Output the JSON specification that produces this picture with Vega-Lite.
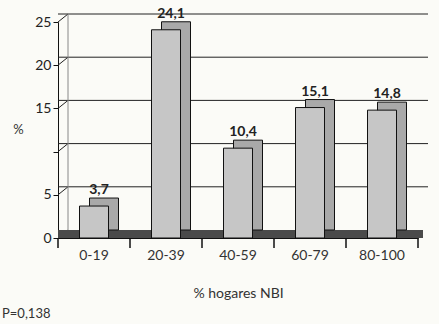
{
  "$schema": "https://vega.github.io/schema/vega-lite/v6.json",
  "width": 360,
  "height": 216,
  "autosize": {"type": "none"},
  "padding": {"left": 58, "top": 22, "right": 21, "bottom": 86},
  "background": "#fbfbf7",
  "config": {
    "view": {"stroke": null},
    "font": "Lato",
    "locale": {"number": {"decimal": ",", "thousands": ".", "grouping": [3], "currency": ["", ""]}}
  },
  "title": {"text": "P=0,138", "orient": "bottom", "anchor": "start", "frame": "group", "dx": -56, "offset": 8, "fontSize": 13, "fontWeight": "normal", "font": "Lato", "color": "#333"},
  "datasets": {
    "bars": [
      {"cat": "0-19", "v": 3.7},
      {"cat": "20-39", "v": 24.1},
      {"cat": "40-59", "v": 10.4},
      {"cat": "60-79", "v": 15.1},
      {"cat": "80-100", "v": 14.8}
    ],
    "grid": [{"g": 0}, {"g": 5}, {"g": 10}, {"g": 15}, {"g": 20}, {"g": 25}]
  },
  "layer": [
    {
      "data": {"name": "grid"},
      "transform": [{"filter": "datum.g > 0"}],
      "mark": {"type": "rule", "xOffset": 10, "yOffset": -8, "color": "#222", "strokeWidth": 1},
      "encoding": {"y": {"field": "g", "type": "quantitative", "scale": {"domain": [0, 25], "nice": false}}}
    },
    {
      "data": {"name": "grid"},
      "mark": {"type": "rule", "x2Offset": 10, "y2Offset": -8, "color": "#222", "strokeWidth": 1},
      "encoding": {
        "x": {"datum": "0-19", "type": "nominal", "bandPosition": 0},
        "x2": {"datum": "0-19", "bandPosition": 0},
        "y": {"field": "g", "type": "quantitative"},
        "y2": {"field": "g"}
      }
    },
    {
      "data": {"name": "grid"},
      "transform": [{"filter": "datum.g == 0"}],
      "mark": {"type": "rule", "xOffset": 10, "yOffset": -8, "color": "#888", "strokeWidth": 1},
      "encoding": {
        "x": {"datum": "0-19", "type": "nominal", "bandPosition": 0}
      }
    },
    {
      "data": {"name": "grid"},
      "transform": [{"filter": "datum.g == 0"}],
      "mark": {"type": "rule", "xOffset": 5, "yOffset": -4, "color": "#4a4a4a", "strokeWidth": 8},
      "encoding": {"y": {"field": "g", "type": "quantitative"}}
    },
    {
      "data": {"name": "bars"},
      "mark": {"type": "rule", "y2Offset": 10, "color": "#111", "strokeWidth": 1.5},
      "encoding": {
        "x": {"field": "cat", "type": "nominal", "bandPosition": 0},
        "y": {"datum": 0, "type": "quantitative"},
        "y2": {"datum": 0}
      }
    },
    {
      "data": {"name": "grid"},
      "transform": [{"filter": "datum.g == 0"}],
      "mark": {"type": "rule", "y2Offset": 10, "color": "#111", "strokeWidth": 1.5},
      "encoding": {
        "x": {"datum": "80-100", "type": "nominal", "bandPosition": 1},
        "y": {"field": "g", "type": "quantitative"},
        "y2": {"field": "g"}
      }
    },
    {
      "data": {"name": "bars"},
      "mark": {"type": "bar", "width": 29, "xOffset": 10, "yOffset": -8, "fill": "#a9a9a9", "stroke": "#111", "strokeWidth": 1},
      "encoding": {
        "x": {"field": "cat", "type": "nominal"},
        "y": {"field": "v", "type": "quantitative"}
      }
    },
    {
      "data": {"name": "bars"},
      "mark": {"type": "bar", "width": 29, "fill": "#c6c6c6", "stroke": "#111", "strokeWidth": 1},
      "encoding": {
        "x": {
          "field": "cat", "type": "nominal", "sort": null,
          "scale": {"type": "band", "paddingInner": 0, "paddingOuter": 0},
          "axis": {"title": "% hogares NBI", "labelAngle": 0, "labelAlign": "center", "labelBaseline": "top", "ticks": false, "tickSize": 0, "domainColor": "#111", "labelFontSize": 14, "labelColor": "#333", "labelPadding": 10, "titleFontSize": 14, "titleFontWeight": "normal", "titleColor": "#333", "titlePadding": 24}
        },
        "y": {
          "field": "v", "type": "quantitative",
          "scale": {"domain": [0, 25], "nice": false},
          "axis": {"values": [0, 5, 10, 15, 20, 25], "labelExpr": "datum.value == 10 ? '' : datum.label", "grid": false, "title": "%", "titleAngle": 0, "titleX": -40, "titleY": 114, "titleFontSize": 13, "titleFontWeight": "normal", "titleColor": "#333", "tickSize": 5, "tickColor": "#111", "domainColor": "#111", "labelFontSize": 14, "labelColor": "#222", "labelPadding": 2}
        }
      }
    },
    {
      "data": {"name": "bars"},
      "mark": {"type": "text", "dx": 5, "dy": -9, "baseline": "bottom", "fontSize": 14, "fontWeight": "bold", "color": "#222"},
      "encoding": {
        "x": {"field": "cat", "type": "nominal"},
        "y": {"field": "v", "type": "quantitative"},
        "text": {"field": "v", "type": "quantitative", "format": ".1f"}
      }
    }
  ]
}
